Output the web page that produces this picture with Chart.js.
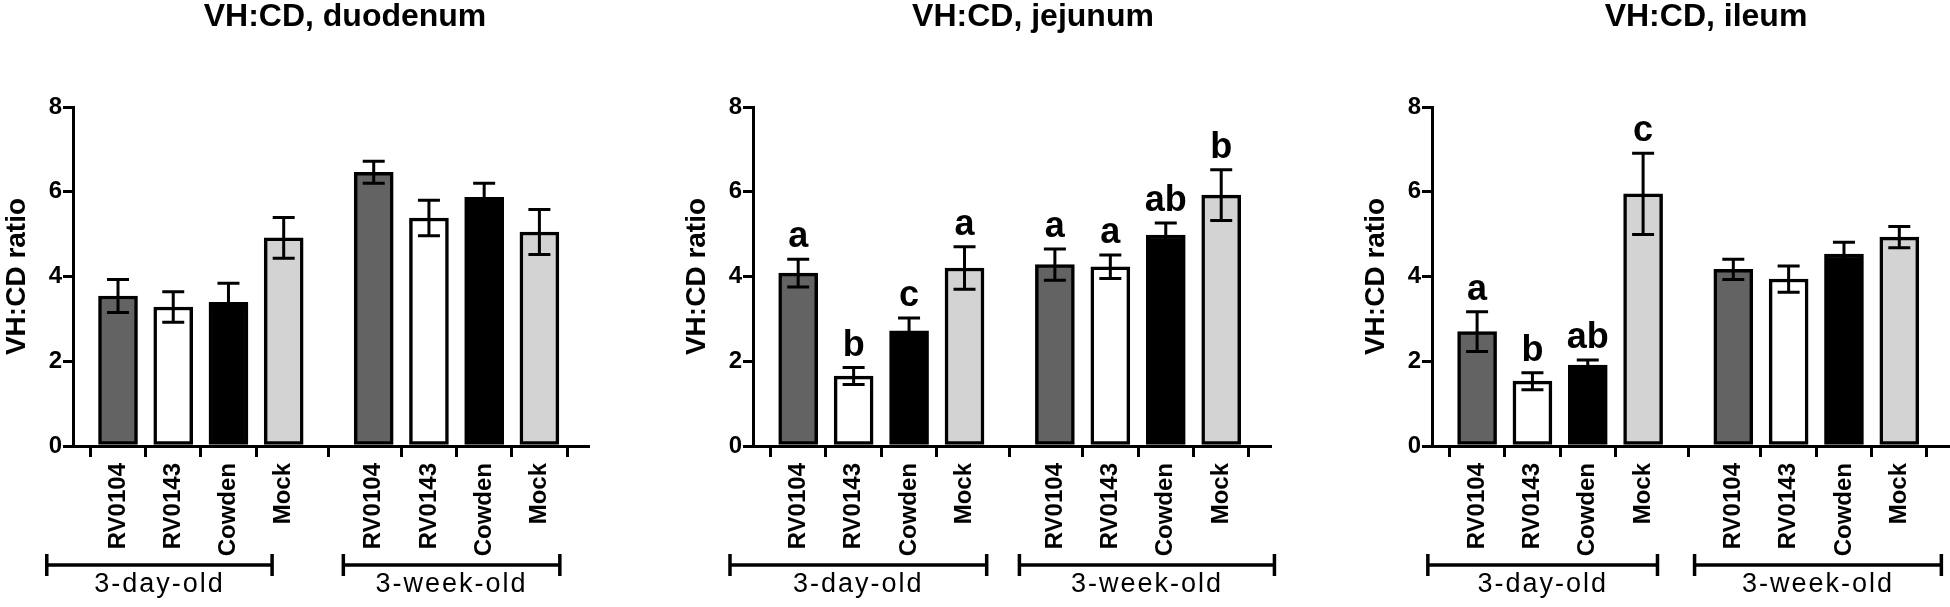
<!DOCTYPE html>
<html><head><meta charset="utf-8">
<script src="https://cdn.jsdelivr.net/npm/chart.js@4.4.1/dist/chart.umd.min.js"></script>
<style>
html,body{margin:0;padding:0;background:#fff;overflow:hidden;width:1950px;height:607px;}
.panel{position:absolute;top:0;height:607px;}
</style></head><body>
<div class="panel" style="left:0;width:690px"><canvas id="c1"></canvas></div>
<div class="panel" style="left:680px;width:706px"><canvas id="c2"></canvas></div>
<div class="panel" style="left:1359px;width:694px"><canvas id="c3"></canvas></div>
<script>
// ---- data ----
const categories = ['RV0104', 'RV0143', 'Cowden', 'Mock'];
const ageGroups = ['3-day-old', '3-week-old'];
const tickLabels = [...categories, ...categories];
const yTicks = [0, 2, 4, 6, 8];
const titles = ['VH:CD, duodenum', 'VH:CD, jejunum', 'VH:CD, ileum'];
const yAxisTitle = 'VH:CD ratio';

const duodenumMean = [3.54, 3.28, 3.39, 4.91, 6.46, 5.38, 5.87, 5.05];
const duodenumSem  = [0.39, 0.36, 0.45, 0.48, 0.26, 0.42, 0.33, 0.53];
const duodenumLetters = ['', '', '', '', '', '', '', ''];

const jejunumMean = [4.08, 1.65, 2.72, 4.20, 4.28, 4.23, 4.98, 5.92];
const jejunumSem  = [0.33, 0.20, 0.30, 0.50, 0.37, 0.28, 0.28, 0.60];
const jejunumLetters = ['a', 'b', 'c', 'a', 'a', 'a', 'ab', 'b'];

const ileumMean = [2.70, 1.53, 1.91, 5.95, 4.17, 3.94, 4.53, 4.93];
const ileumSem  = [0.47, 0.20, 0.12, 0.96, 0.24, 0.31, 0.28, 0.25];
const ileumLetters = ['a', 'b', 'ab', 'c', '', '', '', ''];

// ---- styling / layout ----
const barColors = ['#636363', '#ffffff', '#000000', '#d3d3d3'];
const GROUP_STEP = 4.63;           // x-units from first bar of group 1 to first bar of group 2
const X_MIN = -0.815, X_MAX = 8.51;
const FONT = '"Liberation Sans", Arial, sans-serif';

function xPos(i) { return (i % 4) + Math.floor(i / 4) * GROUP_STEP; }

const overlayPlugin = {
  id: 'overlay',
  afterDatasetsDraw(chart, args, opts) {
    const ctx = chart.ctx;
    const xs = chart.scales.x, ys = chart.scales.y;
    const ds = chart.data.datasets[0];
    ctx.save();
    ctx.strokeStyle = '#000';
    ctx.fillStyle = '#000';
    ctx.lineCap = 'butt';
    ds.data.forEach((pt, i) => {
      const e = opts.sem[i];
      const px = xs.getPixelForValue(pt.x);
      const top = ys.getPixelForValue(pt.y + e);
      const bot = ys.getPixelForValue(pt.y - e);
      ctx.lineWidth = 3;
      ctx.beginPath();
      ctx.moveTo(px, top); ctx.lineTo(px, bot);
      ctx.moveTo(px - 11, top); ctx.lineTo(px + 11, top);
      ctx.moveTo(px - 11, bot); ctx.lineTo(px + 11, bot);
      ctx.stroke();
      const L = opts.letters[i];
      if (L) {
        ctx.font = 'bold 36px ' + FONT;
        ctx.textAlign = 'center';
        ctx.textBaseline = 'alphabetic';
        ctx.fillText(L, px, top - 12);
      }
    });
    const yb = chart.chartArea.bottom + 119;
    opts.brackets.forEach((span, g) => {
      const x1 = xs.getPixelForValue(span[0]);
      const x2 = xs.getPixelForValue(span[1]);
      ctx.lineWidth = 3.5;
      ctx.beginPath();
      ctx.moveTo(x1, yb); ctx.lineTo(x2, yb);
      ctx.moveTo(x1, yb - 11); ctx.lineTo(x1, yb + 11);
      ctx.moveTo(x2, yb - 11); ctx.lineTo(x2, yb + 11);
      ctx.stroke();
      ctx.font = '27px ' + FONT;
      try { ctx.letterSpacing = '2px'; } catch (err) {}
      ctx.textAlign = 'center';
      ctx.textBaseline = 'alphabetic';
      ctx.fillText(ageGroups[g], (x1 + x2) / 2, yb + 27);
      try { ctx.letterSpacing = '0px'; } catch (err) {}
    });
    ctx.restore();
  }
};

function makePanel(canvasId, title, mean, sem, letters, brackets, rightWidth) {
  const data = mean.map((v, i) => ({ x: xPos(i), y: v }));
  new Chart(document.getElementById(canvasId), {
    type: 'bar',
    data: {
      datasets: [{
        data: data,
        backgroundColor: mean.map((v, i) => barColors[i % 4]),
        borderColor: '#000',
        borderWidth: 3.5,
        borderSkipped: false,
        barThickness: 39
      }]
    },
    plugins: [overlayPlugin],
    options: {
      responsive: true,
      maintainAspectRatio: false,
      animation: false,
      layout: { padding: 0 },
      plugins: {
        legend: { display: false },
        tooltip: { enabled: false },
        title: {
          display: true,
          text: title,
          color: '#000',
          font: { family: FONT, size: 32, weight: 'bold', lineHeight: 1.1 },
          padding: { top: 0, bottom: 71.8 }
        },
        overlay: { sem: sem, letters: letters, brackets: brackets }
      },
      scales: {
        x: {
          type: 'linear',
          min: X_MIN,
          max: X_MAX,
          offset: false,
          afterBuildTicks: (scale) => { scale.ticks = data.map(d => ({ value: d.x })); },
          afterFit: (scale) => { scale.height = 161; },
          ticks: {
            autoSkip: false,
            minRotation: 90,
            maxRotation: 90,
            padding: 6,
            color: '#000',
            font: { family: FONT, size: 24, weight: 'bold' },
            callback: (value, index) => tickLabels[index]
          },
          grid: {
            display: true,
            drawOnChartArea: false,
            drawTicks: true,
            tickLength: 11,
            tickWidth: 3,
            tickColor: '#000',
            color: '#000',
            lineWidth: 3
          },
          border: { display: true, color: '#000', width: 3 }
        },
        y: {
          type: 'linear',
          position: 'left',
          min: 0,
          max: 8,
          afterBuildTicks: (scale) => { scale.ticks = yTicks.map(v => ({ value: v })); },
          afterFit: (scale) => { scale.width = 73; },
          ticks: {
            padding: 1,
            color: '#000',
            font: { family: FONT, size: 24, weight: 'bold' }
          },
          grid: {
            display: true,
            drawOnChartArea: false,
            drawTicks: true,
            tickLength: 10,
            tickWidth: 3,
            tickColor: '#000',
            color: '#000',
            lineWidth: 3
          },
          border: { display: true, color: '#000', width: 3 },
          title: {
            display: true,
            text: yAxisTitle,
            color: '#000',
            font: { family: FONT, size: 28, weight: 'bold', lineHeight: 1.2 },
            padding: { top: 0, bottom: 0 }
          }
        },
        yRight: {
          type: 'linear',
          position: 'right',
          display: true,
          afterFit: (scale) => { scale.width = rightWidth; },
          ticks: { display: false },
          grid: { display: false },
          border: { display: false }
        }
      }
    }
  });
}

makePanel('c1', titles[0], duodenumMean, duodenumSem, duodenumLetters, [[-1.29, 2.79], [4.08, 8.0]], 102);
makePanel('c2', titles[1], jejunumMean, jejunumSem, jejunumLetters, [[-1.23, 3.40], [3.99, 8.59]], 116);
makePanel('c3', titles[2], ileumMean, ileumSem, ileumLetters, [[-0.89, 3.26], [3.93, 8.39]], 105);
</script>
</body></html>
